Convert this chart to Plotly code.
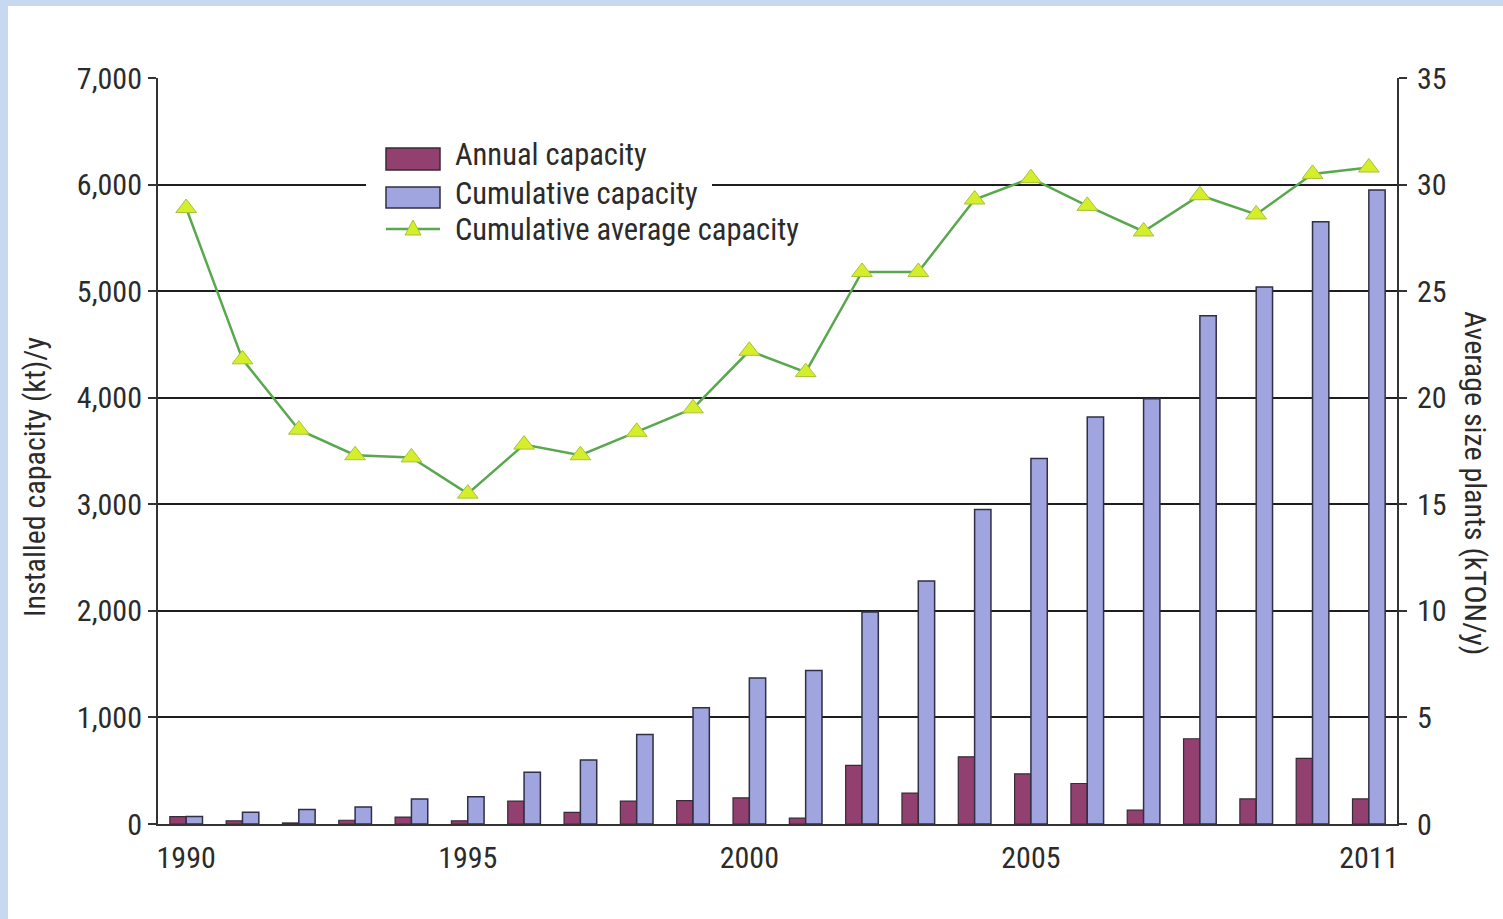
import plotly.graph_objects as go

years = list(range(1990, 2012))
annual_capacity = [70, 30, 10, 35, 65, 30, 215, 110, 215, 220, 245, 55, 550, 290, 630, 470, 380, 130, 800, 235, 615, 235]
cumulative_capacity = [70, 110, 135, 160, 235, 255, 485, 600, 840, 1090, 1370, 1440, 1990, 2280, 2950, 3430, 3820, 3990, 4770, 5040, 5650, 5950]
cumulative_average = [28.9, 21.8, 18.5, 17.3, 17.2, 15.5, 17.8, 17.3, 18.4, 19.5, 22.2, 21.2, 25.9, 25.9, 29.3, 30.3, 29.0, 27.8, 29.5, 28.6, 30.5, 30.8]
x_tick_years = [1990, 1995, 2000, 2005, 2011]
left_ticks = [0, 1000, 2000, 3000, 4000, 5000, 6000, 7000]
right_ticks = [0, 5, 10, 15, 20, 25, 30, 35]
series_names = ["Annual capacity", "Cumulative capacity", "Cumulative average capacity"]

FONT = "Liberation Sans Narrow, Arial Narrow, Roboto Condensed, Liberation Sans, sans-serif"
TXT = "#2b2b2b"
ANNUAL_COLOR = "#914070"
CUMUL_COLOR = "#a0a5e0"
LINE_COLOR = "#5aa84e"
MARK_COLOR = "#d4ee2c"
BLUE_BORDER = "#c6d9f1"

W, H = 1503, 919
ML, MR, MT, MB = 158, 106, 78, 95
PW, PH = W - ML - MR, H - MT - MB


def px(x):
    return (x - ML) / PW


def py(y):
    return (H - MB - y) / PH


fig = go.Figure()
fig.add_trace(go.Bar(
    x=years, y=annual_capacity, name=series_names[0],
    marker=dict(color=ANNUAL_COLOR, line=dict(color="#3a2a35", width=1.2)),
))
fig.add_trace(go.Bar(
    x=years, y=cumulative_capacity, name=series_names[1],
    marker=dict(color=CUMUL_COLOR, line=dict(color="#2f2f45", width=1.5)),
))
fig.add_trace(go.Scatter(
    x=years, y=cumulative_average, name=series_names[2],
    yaxis="y2", mode="lines+markers",
    line=dict(color=LINE_COLOR, width=2.5),
    marker=dict(symbol="triangle-up", size=18, color=MARK_COLOR,
                line=dict(color="#a6c23a", width=1)),
))

# manual legend (wide swatches like the original)
tri_cx, tri_cy = 413, 229
shapes = [
    dict(type="rect", xref="paper", yref="paper",
         x0=px(0), x1=px(8), y0=py(H), y1=py(0),
         fillcolor=BLUE_BORDER, line=dict(width=0), layer="below"),
    dict(type="rect", xref="paper", yref="paper",
         x0=px(0), x1=px(W), y0=py(6), y1=py(0),
         fillcolor=BLUE_BORDER, line=dict(width=0), layer="below"),
    dict(type="rect", xref="paper", yref="paper",
         x0=px(366), x1=px(712), y0=py(252), y1=py(128),
         fillcolor="white", line=dict(width=0), layer="above"),
    dict(type="rect", xref="paper", yref="paper",
         x0=px(386), x1=px(440), y0=py(170), y1=py(148),
         fillcolor=ANNUAL_COLOR, line=dict(color="#3a2a35", width=1.5)),
    dict(type="rect", xref="paper", yref="paper",
         x0=px(386), x1=px(440), y0=py(208), y1=py(187),
         fillcolor=CUMUL_COLOR, line=dict(color="#2f2f45", width=1.5)),
    dict(type="line", xref="paper", yref="paper",
         x0=px(386), x1=px(440), y0=py(tri_cy), y1=py(tri_cy),
         line=dict(color=LINE_COLOR, width=2.5)),
    dict(type="path", xref="paper", yref="paper",
         path=(f"M {px(tri_cx)} {py(tri_cy - 9)} L {px(tri_cx - 8)} {py(tri_cy + 6)} "
               f"L {px(tri_cx + 8)} {py(tri_cy + 6)} Z"),
         fillcolor=MARK_COLOR, line=dict(color="#a6c23a", width=1)),
]

annotations = [
    dict(text="Installed capacity (kt)/y", textangle=-90,
         xref="paper", yref="paper", x=px(34), y=py(477),
         xanchor="center", yanchor="middle", showarrow=False,
         font=dict(family=FONT, size=30, color=TXT)),
    dict(text="Average size plants (kTON/y)", textangle=90,
         xref="paper", yref="paper", x=px(1476), y=py(483),
         xanchor="center", yanchor="middle", showarrow=False,
         font=dict(family=FONT, size=30, color=TXT)),
]
for name, cy in zip(series_names, [155, 193, 229]):
    annotations.append(dict(
        text=name, xref="paper", yref="paper", x=px(453), y=py(cy),
        xanchor="left", yanchor="middle", showarrow=False,
        font=dict(family=FONT, size=30.5, color=TXT)))

fig.update_layout(
    width=W, height=H,
    paper_bgcolor="white", plot_bgcolor="white",
    margin=dict(l=ML, r=MR, t=MT, b=MB),
    barmode="group", bargap=0.42, bargroupgap=0.0,
    font=dict(family=FONT, size=30, color=TXT),
    showlegend=False,
    xaxis=dict(
        range=[1989.5, 2011.5],
        tickmode="array", tickvals=x_tick_years,
        ticktext=[str(y) for y in x_tick_years],
        showgrid=False, zeroline=False,
        showline=True, linecolor="#333", linewidth=2,
        ticks="", ticklen=0, ticklabelstandoff=6,
        tickfont=dict(family=FONT, size=30, color=TXT),
    ),
    yaxis=dict(
        range=[0, 7000],
        tickmode="array", tickvals=left_ticks,
        ticktext=[f"{v:,}" for v in left_ticks],
        showgrid=True, gridcolor="#1e1e1e", gridwidth=2,
        zeroline=False,
        showline=True, linecolor="#333", linewidth=2,
        ticks="outside", ticklen=8, tickcolor="#333", tickwidth=2,
        tickfont=dict(family=FONT, size=30, color=TXT),
    ),
    yaxis2=dict(
        range=[0, 35], overlaying="y", side="right",
        tickmode="array", tickvals=right_ticks,
        showgrid=False, zeroline=False,
        showline=True, linecolor="#333", linewidth=2,
        ticks="outside", ticklen=8, tickcolor="#333", tickwidth=2,
        ticklabelstandoff=4,
        tickfont=dict(family=FONT, size=30, color=TXT),
    ),
    shapes=shapes,
    annotations=annotations,
)

fig.write_html("out.html", config={"displayModeBar": False},
               post_script="document.body.style.margin='0px';")
